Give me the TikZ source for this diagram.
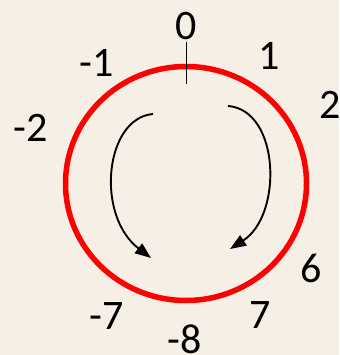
\documentclass[tikz,border=0pt]{standalone}
\usepackage{fontspec}
\setmainfont{Carlito}
\usepackage{tikz}
\usetikzlibrary{arrows.meta, positioning}
\definecolor{slidebg}{RGB}{246,239,230}
\definecolor{ringred}{RGB}{255,0,0}

\begin{document}
\begin{tikzpicture}[
    x=1pt, y=-1pt,
    digit/.style={anchor=base, inner sep=0pt, font=\fontsize{42}{42}\selectfont},
    ring/.style={draw=ringred, line width=5.5pt},
    arrow/.style={-{Triangle[length=16pt, width=12pt]}, line width=1.9pt},
    tick/.style={line width=1pt}
]
% Background
\fill[slidebg] (0,0) rectangle (339,355);
\useasboundingbox (0,0) rectangle (339,355);
% Red circle
\coordinate (centre) at (186,183.5);
\draw[ring] (centre) ellipse [x radius=120.5pt, y radius=117pt];
% Zero mark
\coordinate (ticktop) at (186,42);
\coordinate (tickbot) at (186,84);
\draw[tick] (ticktop) -- (tickbot);
% Labels round the circle
\node[digit] (lzero) at (186,40) {0};
\node[digit] (lmone) at (97,77) {-1};
\node[digit] (lone) at (269,70) {1};
\node[digit] (lmtwo) at (31,142) {-2};
\node[digit] (ltwo) at (330,119) {2};
\node[digit] (lsix) at (311,282) {6};
\node[digit] (lseven) at (260,328) {7};
\node[digit] (lmseven) at (107,329) {-7};
\node[digit] (lmeight) at (185,353) {-8};
% Arrows inside
\coordinate (lstart) at (153,114);
\coordinate (lend) at (151,258);
\coordinate (rstart) at (228,106);
\coordinate (rend) at (230,249);
\draw[arrow] (lstart) .. controls (105,118) and (95,215) .. (lend);
\draw[arrow] (rstart) .. controls (280,110) and (283,215) .. (rend);
\end{tikzpicture}
\end{document}
